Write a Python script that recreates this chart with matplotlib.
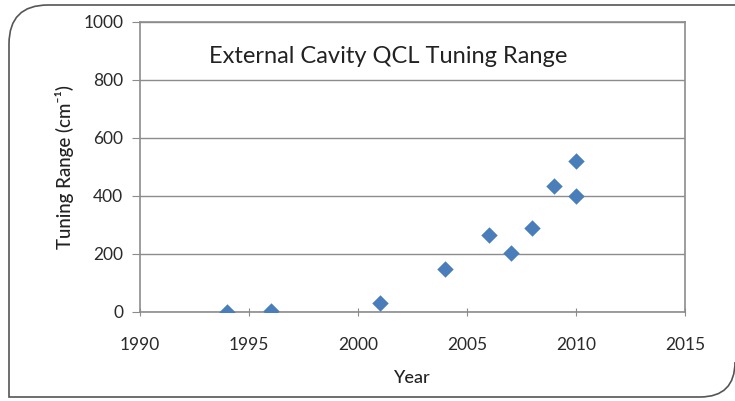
import matplotlib
matplotlib.use("Agg")
import matplotlib.pyplot as plt
from matplotlib.path import Path
from matplotlib.patches import PathPatch

# data
years = [1994, 1996, 2001, 2004, 2006, 2007, 2008, 2009, 2010, 2010]
tuning = [0, 2, 32, 150, 265, 202, 291, 433, 520, 401]
xticks = [1990, 1995, 2000, 2005, 2010, 2015]
yticks = [0, 200, 400, 600, 800, 1000]

W, H = 735, 401
plt.rcParams['font.family'] = ['Lato', 'DejaVu Sans']

fig = plt.figure(figsize=(W / 100, H / 100), dpi=100)
fig.patch.set_facecolor('white')


def px(x, y):
    return (x / W, 1 - y / H)


# rounded frame around the figure
verts = [px(735, 5), px(48, 5), px(9, 5), px(9, 44), px(9, 397),
         px(700, 397), px(735, 397), px(735, 362)]
codes = [Path.MOVETO, Path.LINETO, Path.CURVE3, Path.CURVE3, Path.LINETO,
         Path.LINETO, Path.CURVE3, Path.CURVE3]
frame = PathPatch(Path(verts, codes), facecolor='none', edgecolor='#555555',
                  lw=1.2, transform=fig.transFigure)
fig.add_artist(frame)

ax = fig.add_axes([140 / W, 1 - 312 / H, 545 / W, 290 / H])
ax.scatter(years, tuning, marker='D', s=70, color='#4A7EBB', zorder=3, linewidths=0)

ax.set_xlim(1990, 2015)
ax.set_ylim(0, 1000)
ax.set_xticks(xticks)
ax.set_yticks(yticks)
ax.grid(axis='y', color='#8c8c8c', lw=1)
ax.set_axisbelow(True)
for s in ax.spines.values():
    s.set_color('#8c8c8c')
    s.set_linewidth(1.2)
ax.tick_params(axis='both', colors='#8c8c8c', labelcolor='#2a2a2a', labelsize=12.5, length=6)
ax.tick_params(axis='x', direction='inout', pad=15)
ax.tick_params(axis='y', direction='out', pad=6)

ax.text(0.455, 0.88, 'External Cavity QCL Tuning Range', transform=ax.transAxes,
        ha='center', va='center', fontsize=17, color='#222222')
ax.set_ylabel('Tuning Range (cm⁻¹)', fontsize=13.5, color='#222222',
              fontweight='medium', labelpad=7)
ax.set_xlabel('Year', fontsize=13, color='#222222', fontweight='medium', labelpad=12)

fig.savefig('out.png', dpi=100)
